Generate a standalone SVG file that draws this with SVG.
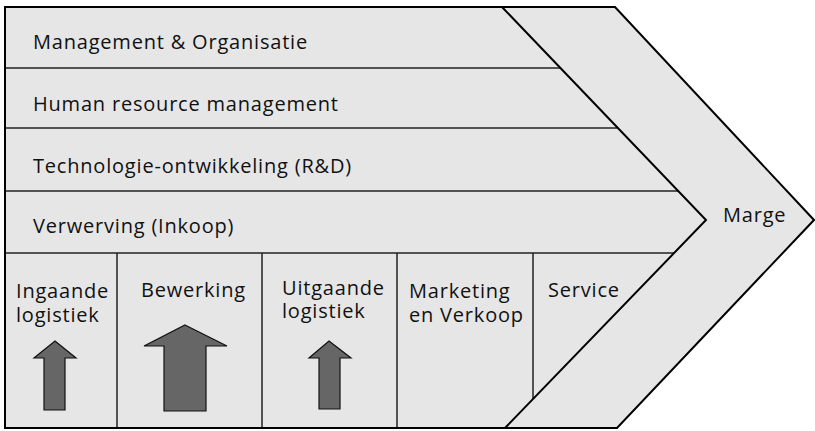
<svg xmlns="http://www.w3.org/2000/svg" width="815" height="431" viewBox="0 0 815 431">
  <style>
    .band { fill: #e6e6e6; }
    .outline { fill: none; stroke: #000; stroke-width: 2; stroke-linejoin: miter; }
    .rule { stroke: #222; stroke-width: 1.5; fill: none; }
    .arrow { fill: #666; stroke: #111; stroke-width: 1.2; stroke-linejoin: miter; }
    text { font-family: "Open Sans", "Noto Sans", "DejaVu Sans", sans-serif; font-size: 20px; letter-spacing: 0.8px; fill: #111; }
  </style>
  <rect width="815" height="431" fill="#fff"/>

  <!-- whole chevron body -->
  <polygon class="band" points="5,7 615,7 814,220 617,428 5,428"/>

  <g id="connectors">
    <!-- support activity separators -->
    <line class="rule" x1="5" y1="68" x2="560" y2="68"/>
    <line class="rule" x1="5" y1="128" x2="617" y2="128"/>
    <line class="rule" x1="5" y1="191" x2="678" y2="191"/>
    <line class="rule" x1="5" y1="253" x2="674" y2="253"/>
    <!-- primary activity separators -->
    <line class="rule" x1="117" y1="253" x2="117" y2="428"/>
    <line class="rule" x1="262" y1="253" x2="262" y2="428"/>
    <line class="rule" x1="397" y1="253" x2="397" y2="428"/>
    <line class="rule" x1="533" y1="253" x2="533" y2="399"/>
    <!-- margin boundary -->
    <polyline class="outline" points="502,7 706,220 505,428"/>
    <!-- outer border -->
    <polygon class="outline" points="5,7 615,7 814,220 617,428 5,428"/>
  </g>

  <g id="management"><text x="33" y="49">Management &amp; Organisatie</text></g>
  <g id="hrm"><text x="33" y="111">Human resource management</text></g>
  <g id="technologie"><text x="33" y="173">Technologie-ontwikkeling (R&amp;D)</text></g>
  <g id="verwerving"><text x="33" y="233">Verwerving (Inkoop)</text></g>

  <g id="ingaande">
    <text x="16" y="298">Ingaande</text>
    <text x="16" y="322">logistiek</text>
    <polygon class="arrow" points="55,341 76,358 65,358 65,410 44,410 44,358 34,358"/>
  </g>
  <g id="bewerking">
    <text x="141" y="297">Bewerking</text>
    <polygon class="arrow" points="185,325 227,346 206,346 206,411 164,411 164,346 144,346"/>
  </g>
  <g id="uitgaande">
    <text x="282" y="295">Uitgaande</text>
    <text x="282" y="318">logistiek</text>
    <polygon class="arrow" points="329,341 351,358 340,358 340,409 319,409 319,358 309,358"/>
  </g>
  <g id="marketing">
    <text x="409" y="298">Marketing</text>
    <text x="409" y="322">en Verkoop</text>
  </g>
  <g id="service"><text x="548" y="297">Service</text></g>
  <g id="marge"><text x="723" y="222">Marge</text></g>
</svg>
